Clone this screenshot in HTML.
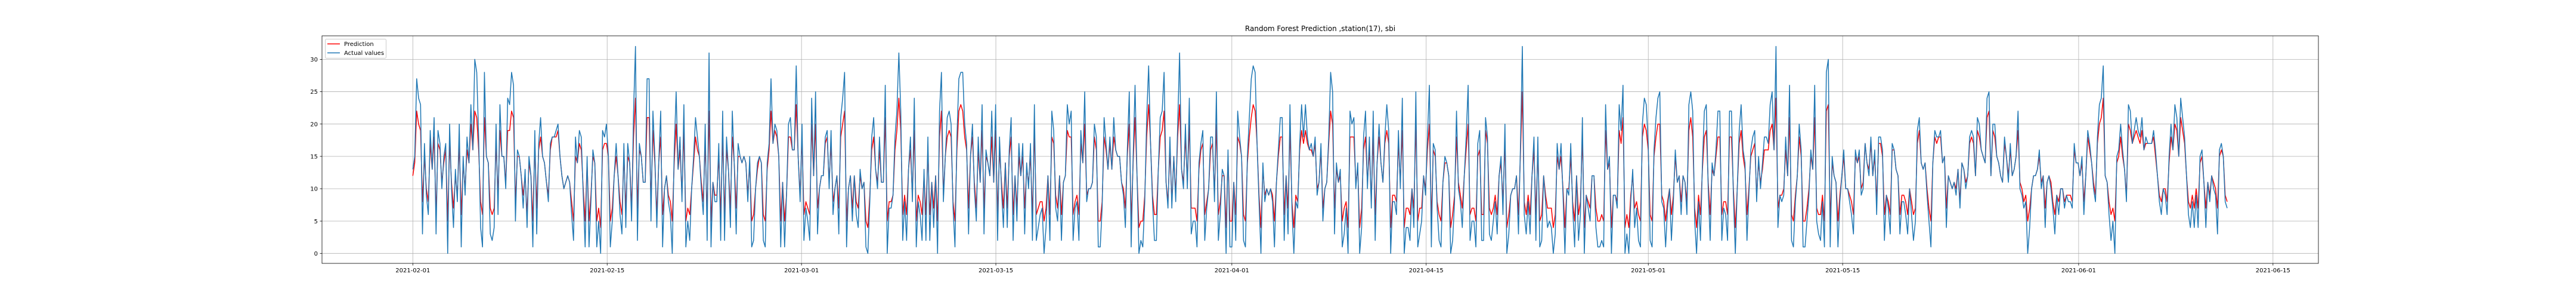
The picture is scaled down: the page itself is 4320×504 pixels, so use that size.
<!DOCTYPE html>
<html><head><meta charset="utf-8"><title>Random Forest Prediction</title>
<style>
html,body{margin:0;padding:0;background:#fff;}
svg{display:block;font-family:"DejaVu Sans","Liberation Sans",sans-serif;}
</style></head>
<body>
<svg id="chart" width="4320" height="504" viewBox="0 0 4320 504" xmlns="http://www.w3.org/2000/svg">
<rect x="0" y="0" width="4320" height="504" fill="#fff"/>
<text x="2214" y="52" text-anchor="middle" font-size="12" fill="#000">Random Forest Prediction ,station(17), sbi</text>
<g id="grid"></g>
<g id="series"></g>
<g id="axes"></g>
<g id="legend">
<rect x="545.5" y="65.5" width="102" height="32" rx="2" fill="#fff" fill-opacity="0.8" stroke="#ccc" stroke-width="1"/>
<line x1="549" y1="73.5" x2="570" y2="73.5" stroke="red" stroke-width="1.5"/>
<text x="577" y="77" font-size="10" fill="#000">Prediction</text>
<line x1="549" y1="88.5" x2="570" y2="88.5" stroke="#1f77b4" stroke-width="1.5"/>
<text x="577" y="92" font-size="10" fill="#000">Actual values</text>
</g>
</svg>
<script>
const xTickDays = [0,14,28,42,59,73,89,103,120,134];
const xTickLabels = ["2021-02-01","2021-02-15","2021-03-01","2021-03-15","2021-04-01","2021-04-15","2021-05-01","2021-05-15","2021-06-01","2021-06-15"];
const yTicks = [0,5,10,15,20,25,30];
const spanDays = 130.7;
const actual = [
13,15,27,24,23,3,17,9,6,19,13,21,3,19,17,10,15,17,0,20,10,4,13,8,20,1,15,9,18,14,23,16,30,28,18,4,1,28,15,14,3,2,4,20,6,23,15,15,10,24,23,28,26,5,16,15,12,7,13,4,15,12,1,19,3,17,21,15,14,11,8,17,18,18,19,20,15,12,10,11,12,11,6,2,18,14,19,18,9,1,15,1,8,16,14,1,5,0,19,18,20,15,1,5,12,17,12,6,3,17,4,17,14,5,22,32,2,17,15,11,11,27,27,5,22,15,4,14,22,1,10,12,8,6,0,16,25,13,18,8,23,1,5,2,10,15,21,18,15,10,6,20,2,31,1,11,8,8,17,2,22,2,18,13,4,22,14,3,17,15,14,
15,14,8,15,1,2,10,14,15,14,2,1,14,17,27,17,20,19,15,1,11,1,9,20,21,16,16,29,15,8,20,2,7,5,2,24,12,25,3,10,12,12,18,19,10,19,6,10,12,3,21,24,28,1,10,12,5,12,6,4,13,10,11,1,0,8,18,21,13,10,18,11,11,26,0,7,7,9,18,22,31,22,2,8,2,13,18,8,24,1,8,6,2,13,2,18,2,11,4,12,0,22,28,8,15,21,22,20,7,1,18,27,28,28,20,17,3,15,20,10,5,18,11,23,3,16,14,12,22,11,23,2,18,10,4,14,4,16,21,2,12,5,17,12,17,3,14,10,17,2,23,2,4,6,7,0,4,12,2,22,19,7,5,12,2,11,12,23,20,22,2,7,8,2,19,14,25,8,10,10,11,20,18,1,1,7,21,17,13,
18,13,21,16,15,15,11,9,4,16,25,1,15,26,12,0,2,1,8,21,29,17,8,2,2,13,21,22,28,11,7,18,7,15,8,20,31,13,10,20,10,24,3,5,5,1,14,17,19,2,7,10,18,18,8,25,2,6,13,12,0,16,1,1,11,2,22,18,15,2,1,15,21,27,29,28,17,8,0,14,8,10,9,10,8,1,11,16,21,21,2,12,3,23,7,0,8,7,17,23,18,23,18,16,17,15,18,9,11,17,5,10,11,18,28,25,3,14,11,13,1,3,7,0,22,20,21,10,14,0,4,18,22,10,18,7,22,2,14,20,14,11,18,23,19,0,8,8,6,19,10,24,0,4,4,2,10,4,25,1,3,5,12,9,18,26,1,17,16,7,2,1,11,15,14,12,0,2,8,22,10,8,4,12,18,26,2,5,5,1,17,19,2,2,
21,18,3,2,5,8,3,12,15,6,20,0,3,9,10,10,12,3,16,32,6,3,8,3,12,18,2,18,1,2,12,8,4,5,4,0,3,17,13,17,9,0,10,9,17,7,1,12,2,6,21,0,9,7,5,12,12,4,1,1,2,1,23,13,15,0,9,9,7,23,19,26,0,3,0,8,13,4,7,2,1,20,24,23,17,2,1,16,21,24,25,8,7,1,7,10,2,8,16,11,12,6,12,11,6,23,25,22,5,0,8,2,14,22,23,10,2,14,12,16,22,22,2,7,6,2,22,22,9,0,10,19,23,16,14,2,9,16,18,19,8,15,10,14,18,18,17,23,25,16,32,4,9,8,9,18,12,26,2,1,8,12,20,16,1,1,5,9,16,13,26,5,3,2,8,1,28,30,1,15,12,11,1,8,12,16,10,10,8,6,3,16,14,16,
9,10,17,14,12,18,12,16,6,18,18,16,2,9,7,3,17,16,13,12,3,8,8,6,3,10,6,2,5,19,21,14,13,14,9,5,1,14,19,18,18,19,14,15,4,12,11,10,11,9,13,7,14,13,10,12,18,19,18,12,21,20,16,15,14,24,25,12,20,20,15,14,12,11,18,15,11,17,12,13,15,22,10,9,7,8,0,4,10,12,12,13,16,10,12,4,11,12,10,7,3,9,6,10,10,7,9,8,8,7,17,14,14,12,15,6,12,19,17,14,10,8,18,23,24,29,12,11,6,2,5,0,15,16,20,16,13,8,23,22,17,19,21,19,18,21,16,18,17,17,17,19,16,12,8,6,10,9,6,15,20,16,23,21,15,24,21,18,12,6,4,8,4,9,4,15,16,11,4,11,8,12,10,9,3,16,17,15,8,7
];
const prediction = [
12,14,22,20,19,8,15,10,8,17,13,18,6,17,16,11,14,16,5,17,11,7,12,9,17,6,14,10,16,14,20,16,22,21,16,8,6,21,15,14,7,6,7,17,9,19,15,15,11,19,19,22,21,8,15,15,12,9,12,6,14,12,5,17,7,16,18,15,14,11,9,16,18,18,18,19,15,12,10,11,12,11,8,5,15,14,17,16,10,5,14,5,9,15,14,5,7,4,16,17,17,15,5,7,12,15,12,8,6,15,7,15,14,7,18,24,7,16,15,11,11,21,21,8,19,14,6,14,18,6,10,12,9,8,5,14,20,13,16,9,19,5,7,6,10,14,18,16,15,11,8,17,6,22,5,11,9,9,15,6,18,6,16,13,7,18,14,7,15,15,14,
15,14,9,14,5,6,10,13,15,14,6,5,13,16,22,17,19,18,15,5,11,5,9,18,18,16,16,23,15,9,18,6,8,7,6,20,12,20,7,10,12,12,17,18,11,17,8,10,12,7,18,20,22,5,10,12,7,12,8,7,12,10,11,5,4,9,16,18,13,11,16,11,11,21,5,8,8,9,16,19,24,19,6,9,6,13,16,9,19,5,9,8,6,12,6,16,6,11,7,12,5,18,22,9,15,18,19,18,8,5,16,22,23,22,18,16,7,15,18,11,7,16,11,19,7,15,14,12,18,11,19,6,16,11,7,14,7,15,18,6,12,7,15,12,15,7,13,11,15,6,19,6,7,8,8,5,7,12,6,18,17,9,7,12,6,11,12,19,18,18,6,8,9,6,17,14,20,9,10,10,11,18,16,5,5,8,18,16,13,
17,13,18,16,15,15,11,10,7,15,20,5,14,21,12,4,5,5,9,18,23,17,9,6,6,13,18,19,22,11,8,16,8,15,9,18,23,13,11,18,11,20,7,7,7,5,13,16,17,6,8,10,16,17,9,20,6,8,12,12,4,15,5,5,11,6,18,17,15,6,5,14,18,21,23,22,17,9,4,13,9,10,9,10,9,5,11,15,18,18,6,12,7,19,8,4,9,8,16,19,17,19,17,16,16,15,17,10,11,16,7,10,11,17,22,20,7,13,11,12,5,7,8,4,18,18,18,11,13,4,7,16,18,11,16,8,18,6,14,18,14,11,17,19,17,4,9,9,8,17,11,19,4,7,7,6,10,7,20,5,7,7,12,10,16,20,5,16,15,8,6,5,11,14,14,12,4,6,9,18,11,9,7,12,16,20,6,7,7,5,15,16,6,6,
19,17,7,6,7,9,6,12,14,8,17,4,6,9,10,10,12,6,15,25,8,6,9,6,12,16,6,16,5,6,12,9,7,7,7,4,6,15,13,15,10,4,10,10,15,8,5,12,6,8,18,4,9,8,7,12,12,7,5,5,6,5,19,13,14,4,9,9,8,19,17,21,4,6,4,9,12,7,8,6,5,18,20,19,16,6,5,15,18,20,20,9,8,5,8,10,6,9,15,11,12,8,12,11,8,19,21,18,7,4,9,6,13,18,19,11,6,13,12,15,18,18,6,8,8,6,18,18,10,4,10,17,19,15,13,6,10,15,16,17,9,14,11,13,16,16,16,19,20,16,24,7,9,9,10,16,12,21,6,5,9,12,18,15,5,5,7,10,15,13,21,7,6,6,9,5,22,23,5,14,12,11,5,9,12,15,10,10,9,8,6,15,14,15,
10,11,17,14,13,17,12,15,8,17,17,15,6,9,8,6,16,16,13,12,6,9,9,8,6,10,8,6,7,17,19,14,13,14,10,7,5,14,18,17,18,18,14,15,7,12,11,10,11,10,13,8,14,13,11,12,17,18,17,12,19,18,16,15,14,21,22,12,19,18,15,14,12,11,17,15,12,16,12,13,15,19,11,10,8,9,5,7,10,12,12,13,15,11,12,7,11,12,11,8,6,9,8,10,10,8,9,9,9,8,16,14,14,12,14,8,12,18,16,14,11,9,17,20,21,24,12,11,8,6,7,5,14,15,18,15,13,9,20,19,17,18,19,18,17,19,16,17,17,17,17,18,15,12,9,8,10,10,8,14,18,16,20,19,15,21,19,17,12,8,7,9,7,10,7,14,15,11,7,11,9,12,11,10,7,15,16,15,9,8
];

const NS = "http://www.w3.org/2000/svg";
const L = 540, R = 3888, T = 60, B = 441;
const x0 = 692.3, pxPerDay = 23.28;
const y0 = 424.3, pxPerUnit = 10.83;
function xScale(d){ return x0 + d * pxPerDay; }
function yScale(v){ return y0 - v * pxPerUnit; }
function mk(tag, attrs){ const e = document.createElementNS(NS, tag); for (const k in attrs) e.setAttribute(k, attrs[k]); return e; }

const grid = document.getElementById('grid');
const axes = document.getElementById('axes');
const series = document.getElementById('series');

xTickDays.forEach((d, i) => {
  const x = xScale(d);
  const gl = mk('line', {x1:x, y1:T, x2:x, y2:B, stroke:'#b0b0b0', 'stroke-width':0.8});
  
  
  grid.appendChild(gl);
  const tk = mk('line', {x1:x, y1:B, x2:x, y2:B+3.5, stroke:'#000', 'stroke-width':0.8});
  
  
  axes.appendChild(tk);
  const tx = mk('text', {x:x, y:456, 'text-anchor':'middle', 'font-size':10, fill:'#000'});
  tx.textContent = xTickLabels[i];
  
  
  axes.appendChild(tx);
});
yTicks.forEach(v => {
  const y = yScale(v);
  const gl = mk('line', {x1:L, y1:y, x2:R, y2:y, stroke:'#b0b0b0', 'stroke-width':0.8});
  
  
  grid.appendChild(gl);
  const tk = mk('line', {x1:L-3.5, y1:y, x2:L, y2:y, stroke:'#000', 'stroke-width':0.8});
  
  
  axes.appendChild(tk);
  const tx = mk('text', {x:L-7, y:y+3.6, 'text-anchor':'end', 'font-size':10, fill:'#000'});
  tx.textContent = String(v);
  
  
  axes.appendChild(tx);
});
const frame = mk('rect', {x:L, y:T, width:R-L, height:B-T, fill:'none', stroke:'#000', 'stroke-width':0.8});


axes.appendChild(frame);

function pathFor(arr){
  const step = spanDays / (arr.length - 1);
  return arr.map((v, i) => (i ? 'L' : 'M') + xScale(i*step).toFixed(1) + ' ' + yScale(v).toFixed(1)).join('');
}
const pLine = mk('path', {d:pathFor(prediction), fill:'none', stroke:'red', 'stroke-width':1.5, 'stroke-linejoin':'round'});


series.appendChild(pLine);
const aLine = mk('path', {d:pathFor(actual), fill:'none', stroke:'#1f77b4', 'stroke-width':1.5, 'stroke-linejoin':'round'});


series.appendChild(aLine);
</script>
</body></html>
